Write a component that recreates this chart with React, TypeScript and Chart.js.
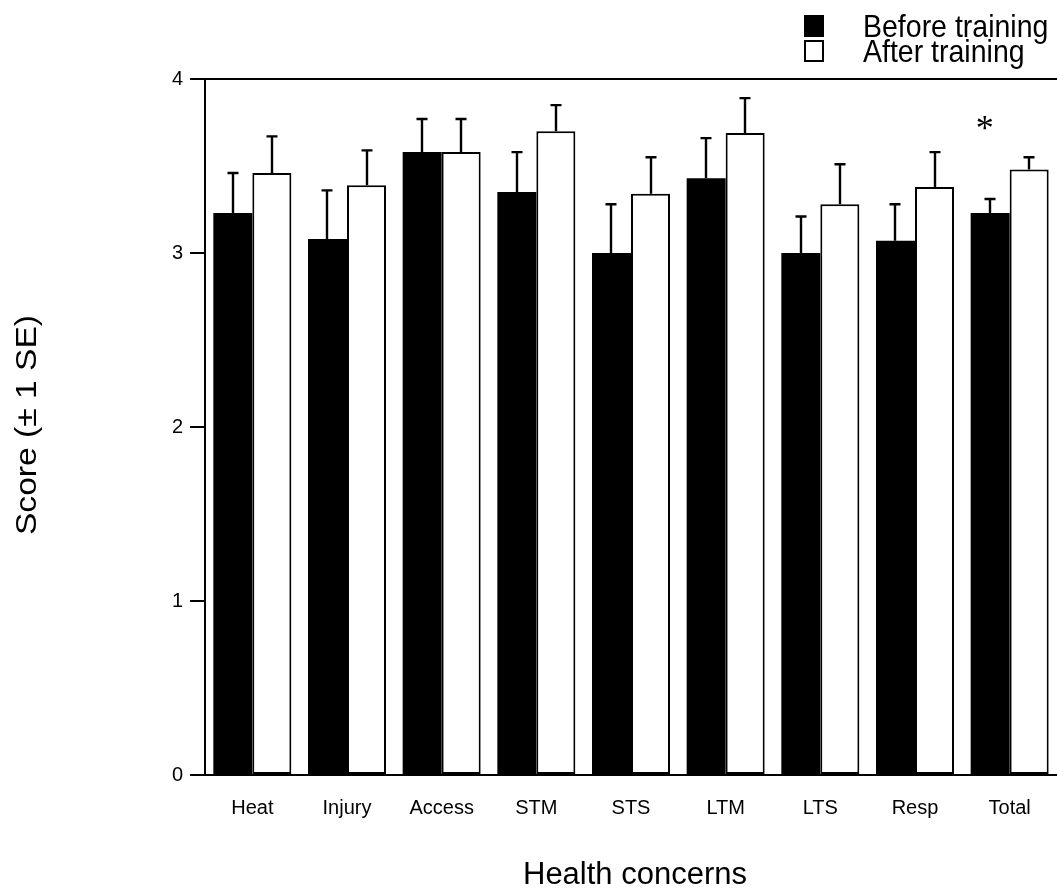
import React, { useEffect, useRef } from "react";
import { Chart, registerables } from "chart.js";

Chart.register(...registerables);

const categories = ["Heat", "Injury", "Access", "STM", "STS", "LTM", "LTS", "Resp", "Total"];
const beforeValues = [3.23, 3.08, 3.58, 3.35, 3.0, 3.43, 3.0, 3.07, 3.23];
const afterValues = [3.46, 3.39, 3.58, 3.7, 3.34, 3.69, 3.28, 3.38, 3.48];
const beforeSE = [0.23, 0.28, 0.19, 0.23, 0.28, 0.23, 0.21, 0.21, 0.08];
const afterSE = [0.21, 0.2, 0.19, 0.15, 0.21, 0.2, 0.23, 0.2, 0.07];
const seriesLabels = ["Before training", "After training"];
const yTickValues = [0, 1, 2, 3, 4];
const xTitle = "Health concerns";
const yTitle = "Score (\u00b1 1 SE)";
const significantIndex = 8;
const significantValue = 3.75;

const FONT = "'Liberation Sans', Arial, Helvetica, sans-serif";

const errorBarPlugin = {
  id: "errorBars",
  afterDatasetsDraw(chart: any) {
    const ctx = chart.ctx;
    const yScale = chart.scales.y;
    const errs = [beforeSE, afterSE];
    ctx.save();
    ctx.strokeStyle = "#000";
    ctx.lineWidth = 2.4;
    chart.data.datasets.forEach((ds: any, di: number) => {
      const meta = chart.getDatasetMeta(di);
      meta.data.forEach((bar: any, i: number) => {
        const v = ds.data[i];
        const top = yScale.getPixelForValue(v + errs[di][i]);
        const x = Math.round(bar.x);
        ctx.beginPath();
        ctx.moveTo(x, bar.y);
        ctx.lineTo(x, top);
        ctx.moveTo(x - 5.5, top);
        ctx.lineTo(x + 5.5, top);
        ctx.stroke();
      });
    });
    ctx.restore();
  },
};

const textPlugin = {
  id: "extraText",
  afterDraw(chart: any) {
    const ctx = chart.ctx;
    const xScale = chart.scales.x;
    const yScale = chart.scales.y;
    ctx.save();
    ctx.fillStyle = "#000";
    // legend
    const ds = chart.data.datasets;
    const rows = [37, 62];
    rows.forEach((base, i) => {
      const bx = 804;
      const by = base - 22;
      ctx.fillStyle = "#000";
      ctx.fillRect(bx, by, 20, 22);
      if (ds[i].backgroundColor !== "#000") {
        ctx.fillStyle = ds[i].backgroundColor;
        ctx.fillRect(bx + 2, by + 2, 16, 18);
      }
      ctx.fillStyle = "#000";
      ctx.save();
      ctx.translate(863, base);
      ctx.scale(1, 1.1);
      ctx.font = `28.5px ${FONT}`;
      ctx.textAlign = "left";
      ctx.textBaseline = "alphabetic";
      ctx.fillText(ds[i].label, 0, 0);
      ctx.restore();
    });
    // y title
    ctx.save();
    ctx.translate(36, 425);
    ctx.rotate(-Math.PI / 2);
    ctx.scale(1.12, 1);
    ctx.font = `30px ${FONT}`;
    ctx.textAlign = "center";
    ctx.textBaseline = "alphabetic";
    ctx.fillText(yTitle, 0, 0);
    ctx.restore();
    // x title
    ctx.font = `31px ${FONT}`;
    ctx.textAlign = "center";
    ctx.textBaseline = "alphabetic";
    ctx.fillText(xTitle, 635, 884);
    // asterisk
    ctx.font = `36px 'Liberation Serif', 'Times New Roman', serif`;
    ctx.textAlign = "center";
    ctx.textBaseline = "alphabetic";
    const m = ctx.measureText("*");
    const ax = xScale.getPixelForValue(significantIndex) - 25;
    const ay = yScale.getPixelForValue(significantValue);
    const base = ay + (m.actualBoundingBoxAscent - m.actualBoundingBoxDescent) / 2;
    ctx.fillText("*", ax, base);
    ctx.restore();
  },
};

export default function App() {
  const ref = useRef<HTMLCanvasElement | null>(null);
  useEffect(() => {
    if (!ref.current) return;
    const chart = new Chart(ref.current, {
      type: "bar",
      data: {
        labels: categories,
        datasets: [
          {
            label: seriesLabels[0],
            data: beforeValues,
            backgroundColor: "#000",
            borderColor: "#000",
            borderWidth: 0,
            borderSkipped: false,
            categoryPercentage: 0.824,
            barPercentage: 1,
          },
          {
            label: seriesLabels[1],
            data: afterValues,
            backgroundColor: "#fff",
            borderColor: "#000",
            borderWidth: 2,
            borderSkipped: false,
            categoryPercentage: 0.824,
            barPercentage: 1,
          },
        ],
      },
      options: {
        animation: false,
        responsive: false,
        maintainAspectRatio: false,
        layout: { padding: { top: 79, right: 0, left: 0, bottom: 0 } },
        plugins: { legend: { display: false }, tooltip: { enabled: false }, title: { display: false } },
        scales: {
          x: {
            type: "category",
            grid: { display: false, drawTicks: false },
            border: { display: true, color: "#000", width: 2 },
            ticks: { color: "#000", font: { family: FONT, size: 20 }, padding: 21, maxRotation: 0 },
            afterFit: (scale: any) => {
              scale.height = 115;
            },
          },
          y: {
            min: 0,
            max: 4,
            afterBuildTicks: (scale: any) => {
              scale.ticks = yTickValues.map((v) => ({ value: v }));
            },
            grid: {
              display: true,
              drawOnChartArea: true,
              color: (c: any) => (c.tick && c.tick.value === 4 ? "#000" : "rgba(0,0,0,0)"),
              tickColor: "#000",
              tickLength: 15,
              lineWidth: 2,
            },
            border: { display: true, color: "#000", width: 2 },
            ticks: { color: "#000", font: { family: FONT, size: 20 }, padding: 7 },
            afterFit: (scale: any) => {
              scale.width = 205;
            },
          },
        },
      },
      plugins: [errorBarPlugin, textPlugin],
    });
    return () => chart.destroy();
  }, []);
  return (
    <div style={{ position: "fixed", left: 0, top: 0, width: 1057, height: 890, background: "#fff" }}>
      <canvas ref={ref} width={1057} height={890} style={{ width: 1057, height: 890, display: "block" }} />
    </div>
  );
}
